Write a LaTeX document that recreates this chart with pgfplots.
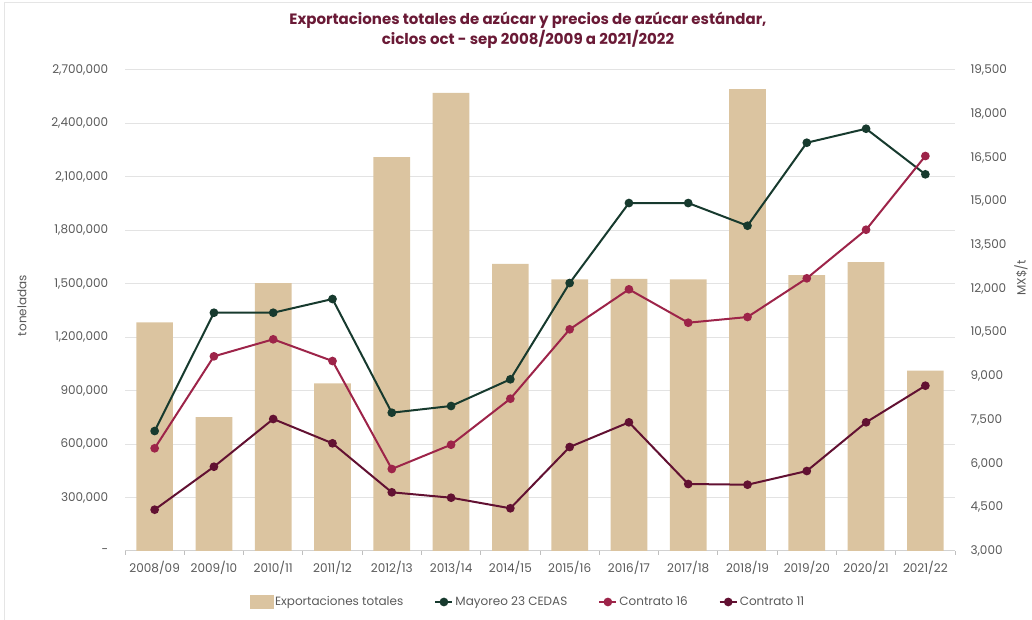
\documentclass[border=0pt]{standalone}
\usepackage{fontspec}
\setmainfont{Poppins}
\usepackage{pgfplots}
\pgfplotsset{compat=1.18}
\definecolor{barc}{HTML}{DBC4A0}
\definecolor{greenc}{HTML}{173A2E}
\definecolor{crimc}{HTML}{9D2449}
\definecolor{maroc}{HTML}{621132}
\definecolor{titlec}{HTML}{6A1A36}
\definecolor{tickc}{HTML}{595959}
\begin{document}
\begin{tikzpicture}[x=1pt,y=1pt]
\useasboundingbox (0,0) rectangle (1032,620);
\draw[black!10, line width=1pt] (4.5,0) -- (4.5,617.5) -- (1032,617.5);
\node[font=\bfseries\fontsize{15}{20}\selectfont, text=titlec, align=center] at (528,590) {Exportaciones totales de azúcar y precios de azúcar estándar,\\ ciclos oct - sep 2008/2009 a 2021/2022};
\begin{axis}[
  at={(125pt,69pt)}, anchor=south west, scale only axis,
  width=830pt, height=481pt,
  xmin=-0.5, xmax=13.5, ymin=0, ymax=2700000,
  xtick={0,...,13},
  xticklabels={2008/09,2009/10,2010/11,2011/12,2012/13,2013/14,2014/15,2015/16,2016/17,2017/18,2018/19,2019/20,2020/21,2021/22},
  minor xtick={-0.5,0.5,...,13.5},
  major x tick style={draw=none},
  minor x tick style={draw=black!25, line width=0.8pt},
  minor tick length=4pt,
  xtick pos=bottom, tick align=outside,
  ytick={0,300000,600000,900000,1200000,1500000,1800000,2100000,2400000,2700000},
  yticklabels={{-},{300,000},{600,000},{900,000},{1,200,000},{1,500,000},{1,800,000},{2,100,000},{2,400,000},{2,700,000}},
  scaled y ticks=false,
  ytick style={draw=none},
  ymajorgrids, grid style={draw=black!11, line width=1pt},
  separate axis lines,
  x axis line style={draw=black!18, line width=1pt},
  y axis line style={draw=none},
  axis x line*=bottom, axis y line*=left,
  tick label style={font=\fontsize{12}{14}\selectfont, text=tickc},
  xticklabel style={yshift=-2pt},
  yticklabel style={xshift=-9pt},
  ylabel={toneladas},
  ylabel style={at={(axis description cs:-0.124,0.51)}, anchor=center, font=\fontsize{12}{14}\selectfont, text=tickc},
  ybar, bar width=36.7pt,
]
\addplot[fill=barc, draw=none] coordinates {
(0,1284000) (1,752000) (2,1503000) (3,941000) (4,2211500) (5,2571000) (6,1611000)
(7,1525000) (8,1528000) (9,1525000) (10,2593000) (11,1549000) (12,1622000) (13,1012000)};
\end{axis}
\begin{axis}[
  at={(125pt,69pt)}, anchor=south west, scale only axis,
  width=830pt, height=481pt,
  xmin=-0.5, xmax=13.5, ymin=3000, ymax=19500,
  ytick={3000,4500,...,19500},
  scaled y ticks=false,
  axis x line=none, axis y line*=right,
  y axis line style={draw=none},
  ytick style={draw=none},
  /pgf/number format/.cd, 1000 sep={,}, assume math mode=true, /pgfplots/.cd,
  tick label style={font=\fontsize{12}{14}\selectfont, text=tickc},
  yticklabel style={xshift=12pt},
  clip=false,
  legend columns=4,
  legend style={at={(0.4855,-0.106)}, anchor=center, draw=none, fill=none,
    font=\fontsize{12}{14}\selectfont, text=tickc,
    /tikz/every even column/.append style={column sep=29pt}},
  legend cell align=left,
]
\node[rotate=90, font=\fontsize{12}{14}\selectfont, text=tickc] at (rel axis cs:1.0795,0.568) {MX\$/t};
\addlegendimage{legend image code/.code={\fill[barc] (0pt,-6pt) rectangle (23pt,7pt);}}
\addlegendentry{Exportaciones totales}
\addplot[color=greenc, line width=2pt, mark=*, mark size=3.3pt] coordinates {
(0,7116) (1,11174) (2,11174) (3,11644) (4,7744) (5,7974) (6,8889)
(7,12192) (8,14936) (9,14936) (10,14158) (11,17005) (12,17485) (13,15921)};
\addlegendentry{Mayoreo 23 CEDAS}
\addplot[color=crimc, line width=2pt, mark=*, mark size=3.3pt] coordinates {
(0,6523) (1,9678) (2,10261) (3,9517) (4,5813) (5,6646) (6,8224)
(7,10604) (8,11976) (9,10831) (10,11026) (11,12354) (12,14021) (13,16549)};
\addlegendentry{Contrato 16}
\addplot[color=maroc, line width=2pt, mark=*, mark size=3.3pt] coordinates {
(0,4417) (1,5891) (2,7528) (3,6694) (4,5013) (5,4828) (6,4465)
(7,6567) (8,7414) (9,5298) (10,5274) (11,5744) (12,7414) (13,8670)};
\addlegendentry{Contrato 11}
\end{axis}
\end{tikzpicture}
\end{document}
